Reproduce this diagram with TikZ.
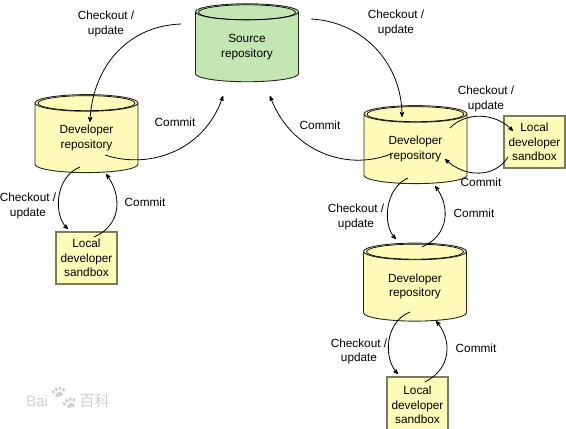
\documentclass[tikz,border=0pt]{standalone}
\usepackage{fontspec}
\setmainfont{Liberation Sans}
\newfontfamily\cjk{Noto Sans CJK SC}
\newfontfamily\paw{Noto Emoji}
\usepackage{xcolor}
\usetikzlibrary{shapes.geometric,arrows,calc}
\definecolor{repoyellow}{HTML}{FFFBB8}
\definecolor{repogreen}{HTML}{C4E6B2}
\definecolor{boxline}{HTML}{7C7C5C}
\tikzset{
	repo/.style={cylinder,shape border rotate=90,aspect=0.31,draw=black!85,line width=0.9pt,
		minimum width=103,minimum height=78,inner sep=0pt,cylinder uses custom fill,
		cylinder body fill=#1,cylinder end fill=#1,align=center,font=\lab},
	sandbox/.style={rectangle,draw=boxline,line width=1.2pt,fill=repoyellow,
		minimum width=61,minimum height=52,inner sep=0pt,align=center,font=\lab},
	lab/.style={align=center,font=\lab,inner sep=0pt}
}
\newcommand{\lab}{\fontsize{11.8}{14.5}\selectfont}
\begin{document}
\begin{tikzpicture}[x=1pt,y=-1pt,->,>=stealth',line width=0.8pt]
		\useasboundingbox (0,0) rectangle (566,429);
		% repositories
		\node[repo=repogreen] (src) at (247,47) {Source\\repository};
		\node[repo=repoyellow] (dev1) at (86.5,138) {Developer\\repository};
		\node[repo=repoyellow] (dev2) at (415.5,149) {Developer\\repository};
		\node[repo=repoyellow] (dev3) at (415,286.5) {Developer\\repository};
		\foreach \name in {src,dev1,dev2,dev3}
			\draw[-,line width=0.7pt] ($(\name.north)+(0,9)$) ellipse (48.5 and 7.5);
		% sandboxes
		\node[sandbox] (box1) at (86.5,258) {Local\\developer\\sandbox};
		\node[sandbox] (box2) at (534.5,142) {Local\\developer\\sandbox};
		\node[sandbox,minimum height=56] (box3) at (417.5,405) {Local\\developer\\sandbox};
		% ends of the arrows
		\coordinate (srcL) at (181,24);
		\coordinate (srcR) at (311,19);
		\coordinate (srcIn1) at (223,96);
		\coordinate (srcIn2) at (270,96);
		\coordinate (dev1In) at (90,122);
		\coordinate (dev1Out) at (105,155);
		\coordinate (dev1Dn) at (80,167);
		\coordinate (dev1Up) at (106,174);
		\coordinate (box1In) at (68,229);
		\coordinate (box1Out) at (94,237);
		\coordinate (dev2In) at (402,117);
		\coordinate (dev2Out) at (391,154);
		\coordinate (dev2Rt) at (450,128);
		\coordinate (dev2Back) at (445,159);
		\coordinate (box2In) at (513,131);
		\coordinate (box2Out) at (508,157);
		\coordinate (dev2Dn) at (408,178);
		\coordinate (dev2Up) at (435,186);
		\coordinate (dev3In) at (396,239);
		\coordinate (dev3Out) at (422,247);
		\coordinate (dev3Dn) at (410,312);
		\coordinate (dev3Up) at (436,321);
		\coordinate (box3In) at (398,374);
		\coordinate (box3Out) at (425,382);
		% arrows
		\draw (srcL) .. controls (125,26) and (92,70) .. (dev1In);
		\draw (dev1Out) .. controls (150,170) and (205,150) .. (srcIn1);
		\draw (srcR) .. controls (365,22) and (402,65) .. (dev2In);
		\draw (dev2Out) .. controls (345,172) and (290,150) .. (srcIn2);
		\draw (dev2Rt) .. controls (465,112) and (495,112) .. (box2In);
		\draw (box2Out) .. controls (495,178) and (465,178) .. (dev2Back);
		\draw (dev1Dn) .. controls (55,177) and (53,215) .. (box1In);
		\draw (box1Out) .. controls (122,225) and (122,195) .. (dev1Up);
		\draw (dev2Dn) .. controls (385,188) and (382,225) .. (dev3In);
		\draw (dev3Out) .. controls (450,235) and (450,205) .. (dev2Up);
		\draw (dev3Dn) .. controls (385,322) and (383,358) .. (box3In);
		\draw (box3Out) .. controls (452,368) and (452,340) .. (dev3Up);
		% labels
		\node[lab] (co1) at (106,24) {Checkout /\\update};
		\node[lab] (co2) at (396,23) {Checkout /\\update};
		\node[lab] (co3) at (486,99) {Checkout /\\update};
		\node[lab] (co4) at (28,206) {Checkout /\\update};
		\node[lab] (co5) at (356,217) {Checkout /\\update};
		\node[lab] (co6) at (359,351.5) {Checkout /\\update};
		\node[lab] (cm1) at (175,122) {Commit};
		\node[lab] (cm2) at (320,125) {Commit};
		\node[lab] (cm3) at (481,182) {Commit};
		\node[lab] (cm4) at (145,202) {Commit};
		\node[lab] (cm5) at (474,213) {Commit};
		\node[lab] (cm6) at (476,348) {Commit};
		% watermark
		\node[inner sep=0pt,text=black!18,font=\fontsize{15}{15}\selectfont] (mark) at (68,398)
			{Bai{\paw\fontsize{25}{25}\selectfont 🐾}{\cjk 百科}};
\end{tikzpicture}
\end{document}
